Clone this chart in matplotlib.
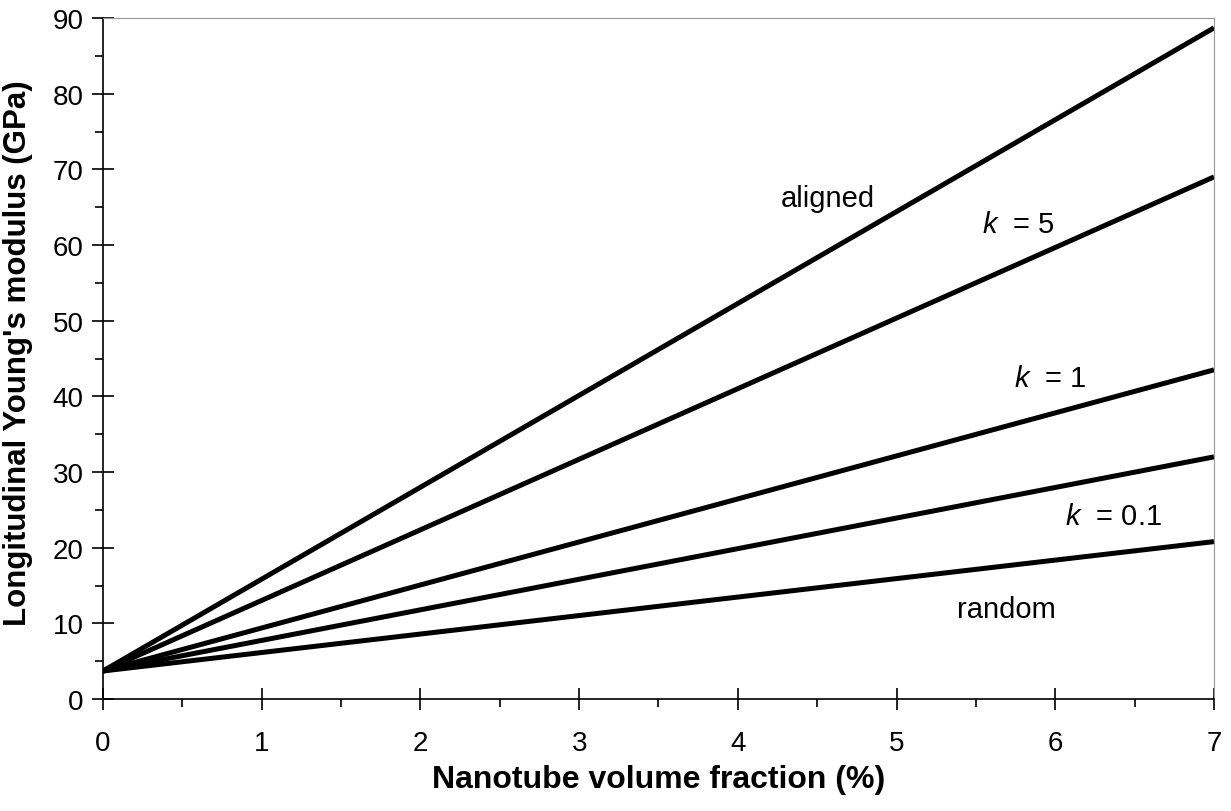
import matplotlib.pyplot as plt
from matplotlib.ticker import MultipleLocator

plt.rcParams['font.family'] = ['Liberation Sans', 'DejaVu Sans']
plt.rcParams['mathtext.fontset'] = 'custom'
plt.rcParams['mathtext.it'] = 'Liberation Sans:italic'
plt.rcParams['mathtext.rm'] = 'Liberation Sans'

# data: straight lines from x=0 to x=7 (volume fraction %)
vol_frac = [0, 7]
aligned = [3.7, 88.7]
k5 = [3.7, 69.0]
k1 = [3.7, 43.5]
k01 = [3.7, 32.0]
random_ = [3.7, 20.8]

# curve labels (left x, baseline y in data units)
labels = ['aligned', '$\\it{k}$  = 5', '$\\it{k}$  = 1', '$\\it{k}$  = 0.1', 'random']
label_x = [4.27, 5.54, 5.74, 6.06, 5.38]
label_y = [65.1, 61.7, 41.4, 23.1, 10.8]

fig = plt.figure(figsize=(12.31, 8.12), dpi=100)
ax = fig.add_axes([103 / 1231, 1 - 700 / 812, 1111 / 1231, 681 / 812])

for ys in [aligned, k5, k1, k01, random_]:
    ax.plot(vol_frac, ys, color='black', lw=3.6, solid_capstyle='butt')

ax.set_xlim(0, 7)
ax.set_ylim(0, 90)
ax.xaxis.set_major_locator(MultipleLocator(1))
ax.xaxis.set_minor_locator(MultipleLocator(0.5))
ax.yaxis.set_major_locator(MultipleLocator(10))
ax.yaxis.set_minor_locator(MultipleLocator(5))
ax.tick_params(which='major', direction='inout', length=16, width=1.2, labelsize=20)
ax.tick_params(which='minor', direction='out', length=6, width=1.2)
ax.tick_params(axis='x', which='major', pad=14)
ax.tick_params(axis='y', which='major', pad=6)
for s in ['top', 'right']:
    ax.spines[s].set_color('#999999')
for s in ['left', 'bottom']:
    ax.spines[s].set_color('black')
    ax.spines[s].set_linewidth(1.2)

ax.set_xlabel('Nanotube volume fraction (%)', fontsize=23, fontweight='bold')
ax.set_ylabel("Longitudinal Young's modulus (GPa)", fontsize=22.5, fontweight='bold')
ax.xaxis.set_label_coords(0.5, -0.095)
ax.yaxis.set_label_coords(-0.063, 0.51)

for txt, lx, ly in zip(labels, label_x, label_y):
    ax.text(lx, ly, txt, fontsize=21, ha='left', va='baseline')

fig.savefig('out.png', dpi=100)
